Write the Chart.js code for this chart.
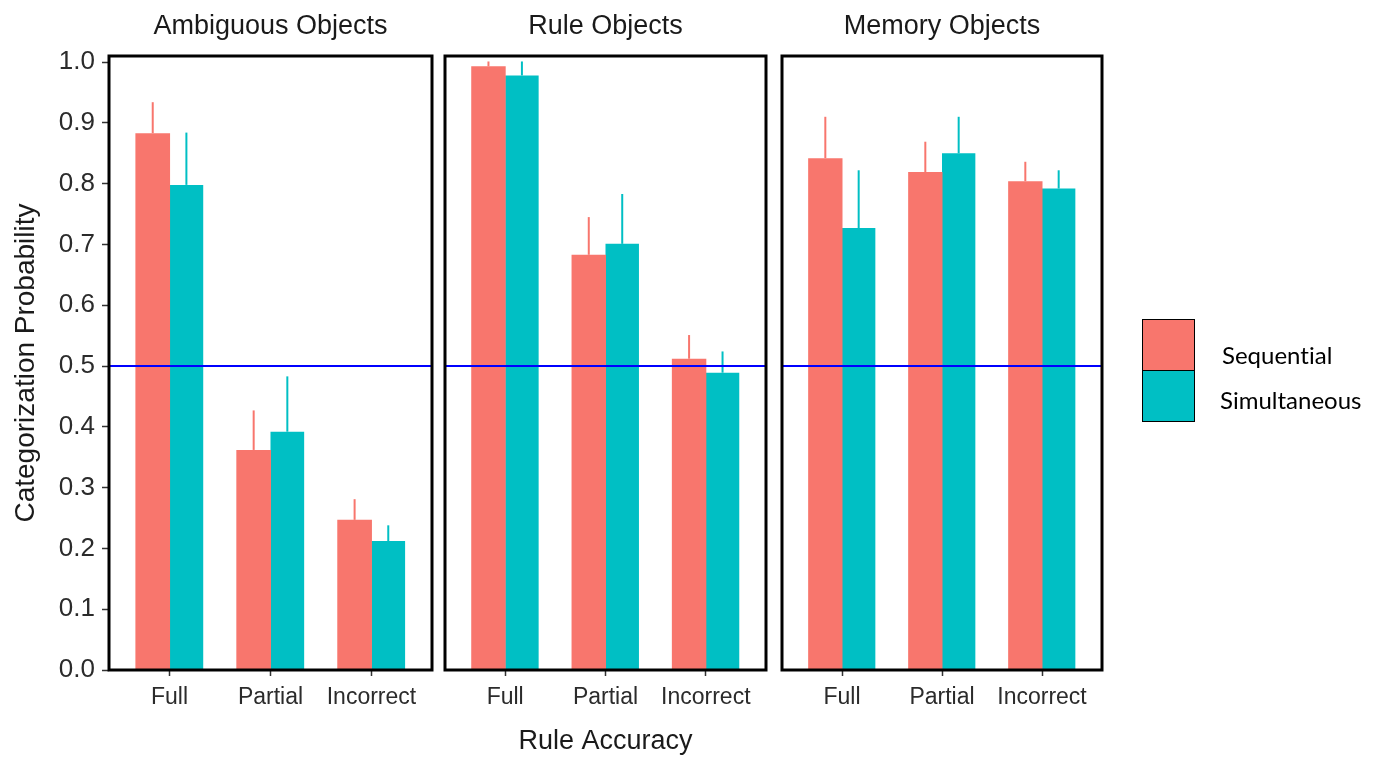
<!DOCTYPE html>
<html>
<head>
<meta charset="utf-8">
<script src="https://cdn.jsdelivr.net/npm/chart.js@4.4.0/dist/chart.umd.min.js"></script>
<style>
  html, body { margin: 0; padding: 0; background: #ffffff; }
  #wrap { position: relative; width: 1382px; height: 758px; overflow: hidden; background: #ffffff; }
  #wrap canvas { position: absolute; left: 0; top: 0; }
  #key { position: absolute; left: 1142px; top: 319px; width: 53px; height: 103px; box-sizing: border-box; border: 1.5px solid #000; }
  #key div { height: 50%; box-sizing: border-box; }
  #key .k0 { background: #F8766D; border-bottom: 1.5px solid #000; }
  #key .k1 { background: #00BFC4; }
  .lab { position: absolute; font-family: Lato, 'Open Sans', sans-serif; font-size: 24px; color: #000; line-height: 1; white-space: nowrap; font-variant-ligatures: none; font-feature-settings: "liga" 0, "clig" 0; }
</style>
</head>
<body>
<div id="wrap">
  <canvas id="p0" width="1382" height="758"></canvas>
  <canvas id="p1" width="1382" height="758"></canvas>
  <canvas id="p2" width="1382" height="758"></canvas>
  <div id="key"><div class="k0"></div><div class="k1"></div></div>
  <div class="lab" id="lab0" style="left:1222px; top:343px;"></div>
  <div class="lab" id="lab1" style="left:1220px; top:388px;"></div>
</div>
<script>
// Categories, series and tick values
const categories = ['Full', 'Partial', 'Incorrect'];
const panelTitles = ['Ambiguous Objects', 'Rule Objects', 'Memory Objects'];
const seriesNames = ['Sequential', 'Simultaneous'];
const yTicks = [0.0, 0.1, 0.2, 0.3, 0.4, 0.5, 0.6, 0.7, 0.8, 0.9, 1.0];
const chanceLevel = 0.5;

// Mean categorization probability per panel
const ambiguousSequential   = [0.883, 0.362, 0.247];
const ambiguousSimultaneous = [0.798, 0.392, 0.212];
const ruleSequential        = [0.993, 0.683, 0.512];
const ruleSimultaneous      = [0.978, 0.701, 0.489];
const memorySequential      = [0.842, 0.819, 0.804];
const memorySimultaneous    = [0.727, 0.850, 0.792];

// Upper error whisker length per bar
const ambiguousSequentialErr   = [0.051, 0.065, 0.034];
const ambiguousSimultaneousErr = [0.086, 0.091, 0.026];
const ruleSequentialErr        = [0.008, 0.062, 0.039];
const ruleSimultaneousErr      = [0.023, 0.082, 0.035];
const memorySequentialErr      = [0.068, 0.050, 0.032];
const memorySimultaneousErr    = [0.095, 0.060, 0.030];

const seqColor = '#F8766D';
const simColor = '#00BFC4';
const sansFamily = "'Liberation Sans', Arial, sans-serif";
Chart.defaults.font.family = sansFamily;

document.getElementById('lab0').textContent = seriesNames[0];
document.getElementById('lab1').textContent = seriesNames[1];

// Whiskers, chance line, panel frame and strip title
const panelDecor = {
  id: 'panelDecor',
  afterDatasetsDraw(chart, args, o) {
    const { ctx, chartArea: a, scales: { y } } = chart;
    ctx.save();
    ctx.beginPath();
    ctx.rect(a.left, a.top, a.right - a.left, a.bottom - a.top);
    ctx.clip();
    chart.data.datasets.forEach((ds, di) => {
      const meta = chart.getDatasetMeta(di);
      ctx.strokeStyle = ds.backgroundColor;
      ctx.lineWidth = 2;
      meta.data.forEach((bar, i) => {
        const m = ds.data[i].y;
        const e = ds.errors[i];
        ctx.beginPath();
        ctx.moveTo(bar.x, y.getPixelForValue(m));
        ctx.lineTo(bar.x, y.getPixelForValue(m + e));
        ctx.stroke();
      });
    });
    const yc = y.getPixelForValue(o.chance);
    ctx.strokeStyle = '#0000FF';
    ctx.lineWidth = 2;
    ctx.beginPath();
    ctx.moveTo(a.left, yc);
    ctx.lineTo(a.right, yc);
    ctx.stroke();
    ctx.restore();

    ctx.save();
    ctx.strokeStyle = '#000000';
    ctx.lineWidth = 3;
    ctx.strokeRect(a.left, a.top, a.right - a.left, a.bottom - a.top);
    ctx.fillStyle = '#1a1a1a';
    ctx.font = '27px ' + sansFamily;
    ctx.textAlign = 'center';
    ctx.textBaseline = 'alphabetic';
    ctx.fillText(o.title, (a.left + a.right) / 2, 34);
    ctx.restore();
  }
};

function makePanel(canvasId, idx, seq, sim, seqErr, simErr, padLeft, padRight) {
  const toPoints = arr => arr.map((v, i) => ({ x: i, y: v }));
  return new Chart(document.getElementById(canvasId), {
    type: 'bar',
    data: {
      datasets: [
        { label: seriesNames[0], data: toPoints(seq), errors: seqErr, backgroundColor: seqColor, borderWidth: 0, barPercentage: 1.03 },
        { label: seriesNames[1], data: toPoints(sim), errors: simErr, backgroundColor: simColor, borderWidth: 0, barPercentage: 1.0 }
      ]
    },
    options: {
      responsive: false,
      animation: false,
      events: [],
      categoryPercentage: 0.667,
      layout: { padding: { left: padLeft, right: padRight, top: 56, bottom: 0 } },
      plugins: {
        legend: { display: false },
        tooltip: { enabled: false },
        title: { display: false },
        panelDecor: { title: panelTitles[idx], chance: chanceLevel }
      },
      scales: {
        x: {
          type: 'linear',
          min: -0.6,
          max: 2.6,
          offset: false,
          afterBuildTicks: s => { s.ticks = categories.map((_, i) => ({ value: i })); },
          afterFit: s => { s.height = 88; },
          grid: { display: true, drawOnChartArea: false, drawTicks: true, tickLength: 6, tickWidth: 1.5, tickColor: '#333333', color: '#333333', offset: false },
          border: { display: false },
          ticks: { callback: v => categories[v], font: { size: 23 }, color: '#2b2b2b', padding: 8, maxRotation: 0, autoSkip: false },
          title: { display: idx === 1, text: 'Rule Accuracy', font: { size: 27 }, color: '#1a1a1a', padding: { top: 0, bottom: 0 } }
        },
        y: {
          type: 'linear',
          min: 0,
          max: 1.01,
          display: idx === 0,
          afterBuildTicks: s => { s.ticks = yTicks.map(v => ({ value: v })); },
          afterFit: s => { if (idx === 0) s.width = 109; },
          grid: { display: true, drawOnChartArea: false, drawTicks: true, tickLength: 7, tickWidth: 1.5, tickColor: '#333333', color: '#333333' },
          border: { display: false },
          ticks: { callback: v => Number(v).toFixed(1), font: { size: 26 }, color: '#2b2b2b', padding: 7 },
          title: { display: true, text: 'Categorization Probability', font: { size: 28 }, color: '#1a1a1a', padding: { top: 9, bottom: 0 } }
        }
      }
    },
    plugins: [panelDecor]
  });
}

makePanel('p0', 0, ambiguousSequential, ambiguousSimultaneous, ambiguousSequentialErr, ambiguousSimultaneousErr, 0, 950);
makePanel('p1', 1, ruleSequential, ruleSimultaneous, ruleSequentialErr, ruleSimultaneousErr, 445, 616);
makePanel('p2', 2, memorySequential, memorySimultaneous, memorySequentialErr, memorySimultaneousErr, 782, 280);
</script>
</body>
</html>
